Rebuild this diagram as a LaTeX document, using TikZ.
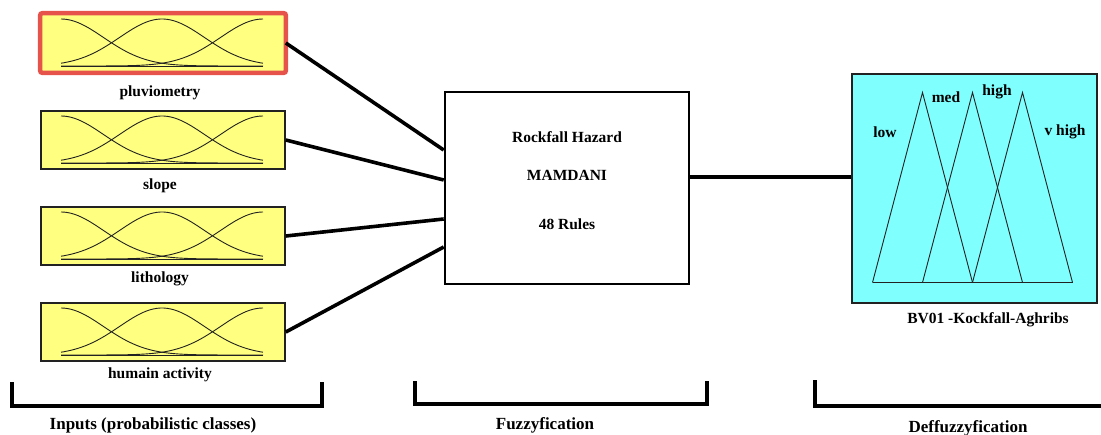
\documentclass[tikz,border=0pt]{standalone}
\usepackage{fontspec}
\setmainfont{Liberation Serif}
\usetikzlibrary{positioning,calc}
\definecolor{mfyellow}{HTML}{FFFF80}
\definecolor{mfcyan}{HTML}{80FFFF}
\definecolor{selred}{HTML}{E5534B}
\definecolor{inkdark}{HTML}{222222}

\begin{document}
\begin{tikzpicture}[
    x=1pt, y=-1pt,
    font=\fontsize{15.5}{18}\selectfont\bfseries,
    inbox/.style={draw=inkdark, fill=mfyellow, line width=1.6pt, minimum width=244pt, minimum height=58pt, inner sep=0pt},
    selframe/.style={draw=selred, line width=4.5pt, rounded corners=2pt},
    enginebox/.style={draw=black, fill=white, line width=2.6pt, minimum width=244pt, minimum height=192pt, inner sep=0pt},
    outbox/.style={draw=inkdark, fill=mfcyan, line width=2pt, minimum width=245pt, minimum height=229pt, inner sep=0pt},
    mf/.style={draw=inkdark, line width=0.9pt},
    link/.style={draw=black, line width=3.6pt},
    bracket/.style={draw=black, line width=3.6pt},
    stagelabel/.style={font=\fontsize{17}{20}\selectfont\bfseries},
]
    \useasboundingbox (0,0) rectangle (1101,434);

    % =====================================================================
    % INPUTS (membership functions)
    % =====================================================================
    \foreach \n/\yc/\ly/\lab in {pluv/43/93/pluviometry, slope/140/186/slope, lith/236/279/lithology, human/332/375/humain activity}{
        \node[inbox] (\n) at (163,\yc) {};
        \node (\n-lab) at (160,\ly) {\lab};
        \begin{scope}[shift={(162,\yc)}]
            \draw[mf] plot[domain=-101:101, samples=60, smooth] (\x, {23-47*exp(-0.5*((\x+101)/42.5)^2)});
            \draw[mf] plot[domain=-101:101, samples=60, smooth] (\x, {23-47*exp(-0.5*(\x/42.5)^2)});
            \draw[mf] plot[domain=-101:101, samples=60, smooth] (\x, {23-47*exp(-0.5*((\x-101)/42.5)^2)});
            \draw[mf] (-101,23) -- (101,23);
        \end{scope}
    }
    \draw[selframe] (pluv.north west) rectangle (pluv.south east);

    % =====================================================================
    % FUZZY INFERENCE
    % =====================================================================
    \node[enginebox] (engine) at (567,188) {};
    \node[align=center] (engine-txt) at (567,181) {Rockfall Hazard\\[20pt]MAMDANI\\[31pt]48 Rules};

    \draw[link] (pluv.east) -- ([yshift=38pt]engine.west);
    \draw[link] (slope.east) -- ([yshift=8pt]engine.west);
    \draw[link] (lith.east) -- ([yshift=-31pt]engine.west);
    \draw[link] (human.east) -- ([yshift=-59pt]engine.west);

    % =====================================================================
    % OUTPUT (triangular classes)
    % =====================================================================
    \node[outbox] (defuzz) at (974.5,188.5) {};
    \begin{scope}[shift={(defuzz.center)}]
        \foreach \a in {-52,-2,48}{
            \draw[mf] (\a-50,94) -- (\a,-96) -- (\a+50,94);
        }
        \draw[mf] (-102,94) -- (98,94);
    \end{scope}
    \node (lbl-low) at (885,132) {low};
    \node (lbl-med) at (946,97) {med};
    \node (lbl-high) at (997,92) {high};
    \node (lbl-vhigh) at (1065,132) {v high};
    \node (outname) at (988,320) {BV01 -Kockfall-Aghribs};

    \coordinate (outstart) at ([yshift=11pt]engine.east);
    \draw[link] (outstart) -- (outstart -| defuzz.west);

    % Stage brackets
    \draw[bracket] (12,382) -- (12,406) -- (322,406) -- (322,382);
    \node[stagelabel] (inputs-lab) at (153,425) {Inputs (probabilistic classes)};
    \draw[bracket] (415,381) -- (415,404) -- (707,404) -- (707,381);
    \node[stagelabel] (fuzz-lab) at (545,425) {Fuzzyfication};
    \draw[bracket] (815,380) -- (815,406) -- (1101,406);
    \node[stagelabel] (defuzz-lab) at (968,428) {Deffuzzyfication};

\end{tikzpicture}
\end{document}
